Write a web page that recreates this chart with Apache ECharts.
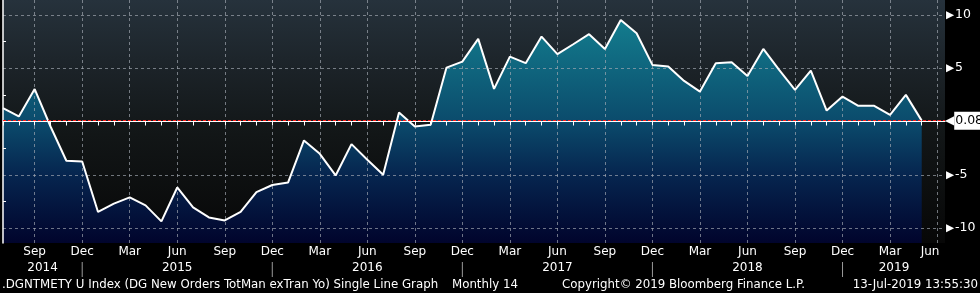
<!DOCTYPE html>
<html><head><meta charset="utf-8">
<script src="https://cdn.jsdelivr.net/npm/echarts@6/dist/echarts.min.js"></script>
<style>html,body{margin:0;padding:0;background:#000}#c{width:980px;height:293px}</style>
</head><body><div id="c"></div>
<script>
// ---- data ----
const startYear = 2014;
const startMonth = 7; // first observation: Jul 2014 (monthly)
const monthNames = ['Jan','Feb','Mar','Apr','May','Jun','Jul','Aug','Sep','Oct','Nov','Dec'];
const quarterMonths = ['Mar','Jun','Sep','Dec'];
const values = [
  1.26, 0.47, 3.04, -0.47, -3.68, -3.75,            // Jul-Dec 2014
  -8.49, -7.71, -7.12, -7.87, -9.37, -6.19,         // Jan-Jun 2015
  -8.06, -9.00, -9.28, -8.49, -6.62, -5.96,         // Jul-Dec 2015
  -5.72, -1.78, -3.03, -5.06, -2.12, -3.59,         // Jan-Jun 2016
  -5.00, 0.84, -0.47, -0.31, 5.06, 5.62,            // Jul-Dec 2016
  7.75, 3.06, 6.09, 5.47, 7.97, 6.32,               // Jan-Jun 2017
  7.25, 8.19, 6.81, 9.53, 8.28, 5.31,               // Jul-Dec 2017
  5.16, 3.81, 2.81, 5.47, 5.57, 4.28,               // Jan-Jun 2018
  6.81, 4.85, 2.97, 4.78, 1.03, 2.34,               // Jul-Dec 2018
  1.47, 1.47, 0.63, 2.50, 0.08                      // Jan-May 2019
];
const footerLeft = '.DGNTMETY U Index (DG New Orders TotMan exTran Yo) Single Line Graph';
const footerFreq = 'Monthly 14';
const footerCopy = 'Copyright\u00A9 2019 Bloomberg Finance L.P.';
const footerDate = '13-Jul-2019 13:55:30';

// ---- helpers ----
const FONT = 'DejaVu Sans';
const monthOf = i => ((startMonth - 1 + Math.round(i)) % 12 + 12) % 12;
const yearOf = i => startYear + Math.floor((startMonth - 1 + Math.round(i)) / 12);
const xMax = values.length - 1 + 1.47;
const decIndex = y => (y - startYear) * 12 + (12 - startMonth);

const yearCenters = [];
for (let y = startYear; y <= yearOf(Math.floor(xMax)); y++) {
  const s = Math.max(0, decIndex(y - 1)), e = Math.min(xMax, decIndex(y));
  yearCenters.push({ year: y, pos: Math.round((s + e) / 2 * 4) / 4 });
}
const separators = [];
for (let i = 0; i <= xMax; i++) if (monthNames[monthOf(i)] === 'Dec') separators.push(i);

const GRID = 'rgba(165,172,180,0.66)';
const NONE = 'rgba(0,0,0,0)';
const xSplitColors = [0, 1, 2].map(k => quarterMonths.includes(monthNames[monthOf(k)]) ? GRID : NONE);
const lastVal = values[values.length - 1];

const chart = echarts.init(document.getElementById('c'), null, { renderer: 'canvas' });
chart.setOption({
  animation: false,
  backgroundColor: '#000',
  grid: {
    left: 0, right: 35, top: 0, bottom: 50, show: true, borderWidth: 0,
    backgroundColor: { type: 'linear', x: 0, y: 0, x2: 0, y2: 1, colorStops: [
      { offset: 0, color: '#26323c' }, { offset: 0.3, color: '#1b2227' },
      { offset: 0.55, color: '#121617' }, { offset: 1, color: '#070707' }] }
  },
  xAxis: [{
    type: 'value', min: 0, max: xMax, interval: 1, z: 3,
    axisLine: { show: true, lineStyle: { color: '#ffffff', width: 1 } },
    axisTick: { show: true, length: 4, lineStyle: { color: '#ffffff' } },
    splitLine: { show: true, lineStyle: { color: xSplitColors, type: [3, 3], width: 1 } },
    axisLabel: {
      show: true, margin: 3, color: '#ffffff', fontFamily: FONT, fontSize: 12,
      showMaxLabel: false,
      formatter: v => {
        if (Math.abs(v - Math.round(v)) > 1e-6) return '';
        const m = monthNames[monthOf(v)];
        if (!quarterMonths.includes(m)) return '';
        return (v + 0.75 > xMax) ? '{sh|' + m + '}' : m;
      },
      rich: { sh: { padding: [0, 15, 0, 0], color: '#ffffff', fontFamily: FONT, fontSize: 12 } }
    }
  }, {
    type: 'value', min: 0, max: xMax, interval: 0.25, position: 'bottom', offset: 16,
    axisLine: { show: false }, axisTick: { show: false }, splitLine: { show: false },
    axisLabel: {
      show: true, margin: 3, color: '#ffffff', fontFamily: FONT, fontSize: 12,
      showMaxLabel: false, showMinLabel: false,
      formatter: v => {
        const yc = yearCenters.find(c => Math.abs(c.pos - v) < 0.1);
        if (yc) return String(yc.year);
        if (separators.some(s => Math.abs(s - v) < 0.1)) return '{sep|}';
        return '';
      },
      rich: { sep: { width: 1, height: 15, backgroundColor: '#9a9a9a' } }
    }
  }],
  yAxis: {
    type: 'value', position: 'right', min: -11.4, max: 11.4, minInterval: 5, maxInterval: 5, z: 3,
    axisLine: { show: true, lineStyle: { color: '#ffffff', width: 1.5 } },
    axisTick: { show: false },
    minorTick: { show: true, splitNumber: 2, length: 3, lineStyle: { color: '#ffffff' } },
    splitLine: { show: true, showMinLine: false, showMaxLine: false,
      lineStyle: { color: [GRID, GRID, NONE, GRID, GRID], type: [3, 3], width: 1 } },
    axisLabel: {
      margin: 1, showMinLabel: false, showMaxLabel: false,
      formatter: v => v === 0 ? '' : '{a|\u25B6}{t|' + v + '}',
      rich: {
        a: { color: '#ffffff', fontSize: 10.5, fontFamily: FONT, padding: [0, 1, 0, 0] },
        t: { color: '#ffffff', fontSize: 12.5, fontFamily: FONT }
      }
    }
  },
  series: [{
    type: 'line', z: 2, showSymbol: false, silent: true,
    data: values.map((v, i) => [i, v]),
    lineStyle: { width: 0 },
    areaStyle: { origin: 'start', opacity: 1, color: { type: 'linear', x: 0, y: 0, x2: 0, y2: 243, global: true, colorStops: [
      { offset: 0, color: '#168a9b' }, { offset: 0.08, color: '#137d8e' },
      { offset: 0.5, color: '#0b4b6c' }, { offset: 0.72, color: '#06254f' }, { offset: 1, color: '#01042c' }] } },
    markLine: {
      silent: true, symbol: 'none', animation: false,
      lineStyle: { color: '#ff1a1a', type: [3, 2], width: 1 },
      label: {
        show: true, position: 'end', distance: 0,
        formatter: () => '{a|\u25C0}{b|' + lastVal.toFixed(2) + '}',
        rich: {
          a: { color: '#ffffff', fontSize: 12, fontFamily: FONT, padding: [0, 0, 0, 0] },
          b: { color: '#000000', backgroundColor: '#ffffff', fontSize: 12.5, fontFamily: FONT, padding: [3, 4, 2, 1] }
        }
      },
      data: [{ yAxis: lastVal }]
    }
  }, {
    type: 'line', z: 4, showSymbol: false, silent: true,
    data: values.map((v, i) => [i, v]),
    lineStyle: { color: '#ffffff', width: 2 }
  }],
  graphic: [
    { type: 'text', x: 2, y: 285, style: { text: footerLeft, fill: '#ffffff', fontFamily: FONT, fontSize: 11.8, align: 'left', verticalAlign: 'middle' } },
    { type: 'text', x: 452, y: 285, style: { text: footerFreq, fill: '#ffffff', fontFamily: FONT, fontSize: 11.8, align: 'left', verticalAlign: 'middle' } },
    { type: 'text', x: 562, y: 285, style: { text: footerCopy, fill: '#ffffff', fontFamily: FONT, fontSize: 11.8, align: 'left', verticalAlign: 'middle' } },
    { type: 'text', x: 978, y: 285, style: { text: footerDate, fill: '#ffffff', fontFamily: FONT, fontSize: 11.8, align: 'right', verticalAlign: 'middle' } }
  ]
});
</script></body></html>
